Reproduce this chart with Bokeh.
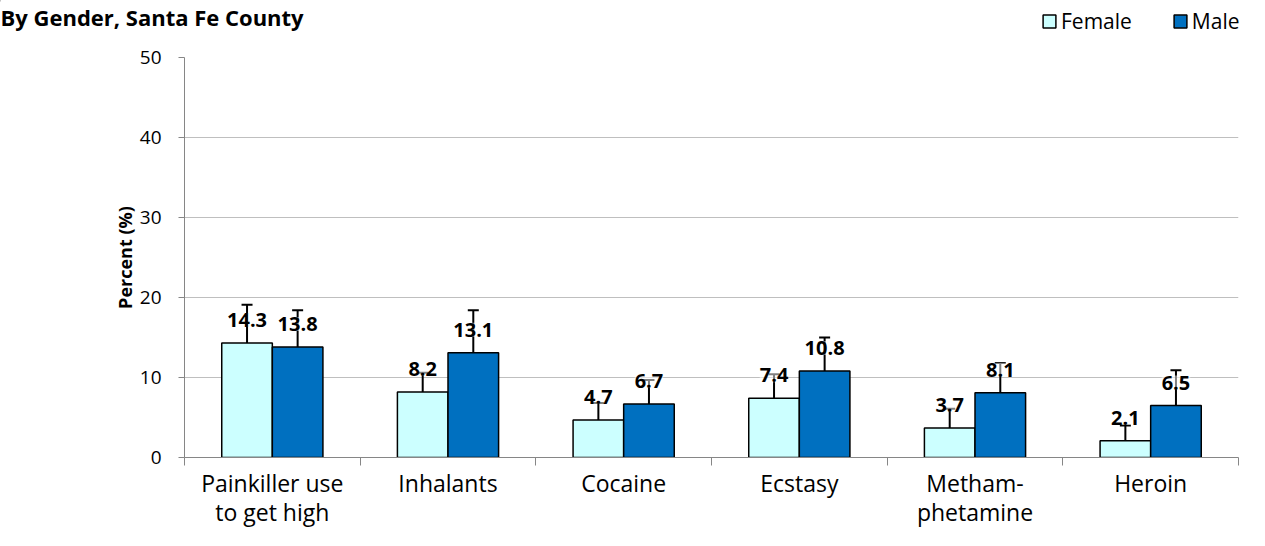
from bokeh.plotting import figure
from bokeh.models import (ColumnDataSource, Whisker, TeeHead, LabelSet, Label, Legend,
                          LegendItem, FixedTicker, Range1d)
from bokeh.layouts import column
from bokeh.core.properties import value
from bokeh.embed import file_html
from bokeh.resources import INLINE

title_text = "By Gender, Santa Fe County"
categories = ["Painkiller use\nto get high", "Inhalants", "Cocaine", "Ecstasy",
              "Metham-\nphetamine", "Heroin"]
series = ["Female", "Male"]
female = [14.3, 8.2, 4.7, 7.4, 3.7, 2.1]
male = [13.8, 13.1, 6.7, 10.8, 8.1, 6.5]
female_lo = [10.5, 6.1, 3.3, 5.3, 2.2, 1.1]
female_hi = [19.1, 10.6, 6.8, 10.4, 6.1, 4.0]
male_lo = [10.2, 9.1, 4.5, 7.7, 5.5, 3.8]
male_hi = [18.4, 18.4, 9.7, 15.0, 11.8, 10.9]
y_ticks = [0, 10, 20, 30, 40, 50]

FONT = "Open Sans"
FEMALE_COLOR = "#CCFFFF"
MALE_COLOR = "#0070C0"
W = 1249
TOP_H = 45
H = 530 - TOP_H

# ---------- header strip (title + legend) ----------
top = figure(width=W, height=TOP_H, output_backend="svg", toolbar_location=None,
             x_range=Range1d(0, W), y_range=Range1d(TOP_H, 0),
             min_border=0, min_border_left=0, min_border_right=0,
             min_border_top=0, min_border_bottom=0)
top.frame_align = False
top.axis.visible = False
top.grid.visible = False
top.outline_line_color = None
top.background_fill_color = "white"

# legend proxies (kept outside the visible range; only their legend swatches show)
proxy = ColumnDataSource(dict(x=[-100], top=[0]))
lf = top.vbar(x="x", top="top", width=1, source=proxy, fill_color=FEMALE_COLOR,
              line_color="black", line_width=1.5)
lm = top.vbar(x="x", top="top", width=1, source=proxy, fill_color=MALE_COLOR,
              line_color="black", line_width=1.5)
legend = Legend(items=[LegendItem(label=series[0], renderers=[lf]),
                       LegendItem(label=series[1], renderers=[lm])],
                orientation="horizontal", location=(1041, 10),
                glyph_width=16, glyph_height=16, label_text_font=FONT,
                label_text_font_size="21px", label_text_color="black",
                label_standoff=4, spacing=40, padding=0, margin=0,
                border_line_color=None, background_fill_alpha=0)
top.add_layout(legend)
top.add_layout(Label(x=0, y=16, text=title_text, text_font=FONT, text_font_size="22px",
                     text_font_style="bold", text_color="black",
                     text_baseline="alphabetic"))

# ---------- main chart ----------
p = figure(width=W, height=H, output_backend="svg", toolbar_location=None,
           x_range=Range1d(0, len(categories)), y_range=Range1d(0, 50),
           min_border_left=184, min_border_right=W - 1238, min_border_top=12,
           min_border_bottom=73)
p.frame_align = False
p.outline_line_color = None
p.background_fill_color = "white"

centers = [i + 0.5 for i in range(len(categories))]
off = 0.144
bw = 0.288
fx = [c - off for c in centers]
mx = [c + off for c in centers]

fsrc = ColumnDataSource(dict(x=fx, top=female, lo=female_lo, hi=female_hi,
                             lab=[f"{v:.1f}" for v in female]))
msrc = ColumnDataSource(dict(x=mx, top=male, lo=male_lo, hi=male_hi,
                             lab=[f"{v:.1f}" for v in male]))

p.vbar(x="x", top="top", width=bw, source=fsrc, fill_color=FEMALE_COLOR,
       line_color="black", line_width=1.5)
p.vbar(x="x", top="top", width=bw, source=msrc, fill_color=MALE_COLOR,
       line_color="black", line_width=1.5)

for src in (fsrc, msrc):
    w = Whisker(base="x", lower="lo", upper="hi", source=src, line_color="black",
                line_width=2,
                upper_head=TeeHead(size=11, line_color="black", line_width=2),
                lower_head=TeeHead(size=11, line_color="black", line_width=2))
    p.add_layout(w)
for src in (fsrc, msrc):
    ls = LabelSet(x="x", y="top", text="lab", source=src, text_align="center",
                  text_baseline="alphabetic", y_offset=16, text_font=value(FONT),
                  text_font_size="20px", text_font_style="bold", text_color="black",
                  background_fill_color="white", background_fill_alpha=0.5)
    p.add_layout(ls)

# grid
p.xgrid.visible = False
p.ygrid.ticker = FixedTicker(ticks=y_ticks)
p.ygrid.grid_line_color = "#BFBFBF"
p.ygrid.grid_line_width = 1

# y axis
p.yaxis.ticker = FixedTicker(ticks=y_ticks)
p.yaxis.axis_line_color = "#868686"
p.yaxis.major_tick_line_color = "#868686"
p.yaxis.major_tick_out = 6
p.yaxis.major_tick_in = 0
p.yaxis.minor_tick_line_color = None
p.yaxis.major_label_text_font = FONT
p.yaxis.major_label_text_font_size = "19px"
p.yaxis.major_label_text_color = "black"
p.yaxis.major_label_standoff = 17
p.yaxis.axis_label = "Percent (%)"
p.yaxis.axis_label_text_font = FONT
p.yaxis.axis_label_text_font_size = "18px"
p.yaxis.axis_label_text_font_style = "bold"
p.yaxis.axis_label_text_color = "black"
p.yaxis.axis_label_standoff = 0

# x axis
p.xaxis.ticker = FixedTicker(ticks=centers, minor_ticks=list(range(len(categories) + 1)))
p.xaxis.major_label_overrides = {c: lab for c, lab in zip(centers, categories)}
p.xaxis.axis_line_color = "#868686"
p.xaxis.major_tick_line_color = None
p.xaxis.major_tick_out = 0
p.xaxis.major_tick_in = 0
p.xaxis.minor_tick_line_color = "#868686"
p.xaxis.minor_tick_out = 8
p.xaxis.minor_tick_in = 0
p.xaxis.major_label_text_font = FONT
p.xaxis.major_label_text_font_size = "23px"
p.xaxis.major_label_text_line_height = 0.92
p.xaxis.major_label_text_color = "black"
p.xaxis.major_label_standoff = 1

layout = column(top, p, spacing=0)
open("out.html", "w").write(file_html(layout, INLINE))
